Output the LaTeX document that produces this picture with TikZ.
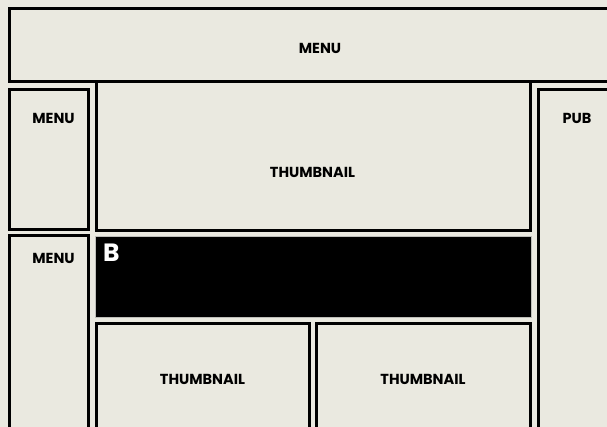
\documentclass[tikz,border=0pt]{standalone}
\usepackage{fontspec}
\setsansfont{Poppins}
\usetikzlibrary{positioning}
\definecolor{PaperBg}{RGB}{234,233,224}
\definecolor{InkBlack}{RGB}{0,0,0}
\definecolor{BannerEdge}{RGB}{190,190,185}
\tikzset{
  frame/.style={draw=InkBlack,line width=3pt,fill=PaperBg},
  banner/.style={draw=BannerEdge,line width=0.8pt,fill=InkBlack},
  tag/.style={font=\sffamily\bfseries\fontsize{14.5}{17}\selectfont,text=InkBlack,inner sep=0pt},
  bigtag/.style={font=\sffamily\bfseries\fontsize{25}{28}\selectfont,text=white,inner sep=0pt}
}

\begin{document}
\begin{tikzpicture}[x=1pt,y=-1pt]
  \useasboundingbox (0,0) rectangle (607,427);
  \clip (0,0) rectangle (607,427);
  \fill[PaperBg] (0,0) rectangle (607,427);
  % header and side columns
  \draw[frame] (9,9) rectangle (650,81.5);
  \draw[frame] (9,89.5) rectangle (88,229.5);
  \draw[frame] (9,235.5) rectangle (88,450);
  \draw[frame] (538,89.5) rectangle (650,450);
  % main column
  \draw[frame] (96,81.5) rectangle (530,230.5);
  \draw[banner] (95.5,236.5) rectangle (531,317);
  \draw[frame] (96,323.5) rectangle (309.5,450);
  \draw[frame] (316.5,323.5) rectangle (530,450);
  % labels
  \node[tag] (menutop) at (320,48) {MENU};
  \node[tag] (menuone) at (53.5,118.5) {MENU};
  \node[tag] (menutwo) at (53.5,258.5) {MENU};
  \node[tag] (pub) at (577,118.5) {PUB};
  \node[tag] (thumbbig) at (312.5,172) {THUMBNAIL};
  \node[tag] (thumbleft) at (202.5,379) {THUMBNAIL};
  \node[tag] (thumbright) at (423,379) {THUMBNAIL};
  \node[bigtag,anchor=north west] (bmark) at (103,244) {B};
\end{tikzpicture}
\end{document}
